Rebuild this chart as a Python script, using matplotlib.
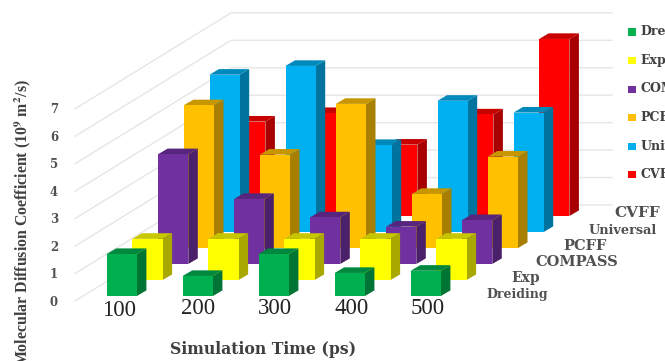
import matplotlib
matplotlib.use("Agg")
import matplotlib.pyplot as plt
from matplotlib.colors import to_rgb
from matplotlib.patches import Polygon, Rectangle

plt.rcParams["font.family"] = ["Liberation Serif", "DejaVu Serif"]
plt.rcParams["mathtext.fontset"] = "stix"

# Diffusion coefficients per force field and simulation time
times = ["100", "200", "300", "400", "500"]
dreiding = [1.53, 0.73, 1.53, 0.84, 0.92]
exp = [1.50, 1.50, 1.50, 1.50, 1.50]
compass = [4.00, 2.37, 1.70, 1.36, 1.60]
pcff = [5.20, 3.40, 5.25, 1.97, 3.33]
universal = [5.73, 6.05, 3.17, 4.78, 4.35]
cvff = [3.44, 3.75, 2.60, 3.70, 6.45]

series_names = ["Dreiding", "Exp", "COMPASS", "PCFF", "Universal", "CVFF"]
series_values = [dreiding, exp, compass, pcff, universal, cvff]
series_colors = ["#00B050", "#FFFF00", "#7030A0", "#FFC000", "#00B0F0", "#FF0000"]
y_ticks = [0, 1, 2, 3, 4, 5, 6, 7]

W, H = 665, 361
PX_X = 76.0      # pixels per time step
PX_Y = 27.45     # pixels per value unit
ORIGIN_X = 106.7
ORIGIN_Y = 296.0
WIDE_BOLD = "DejaVu Serif"

fig = plt.figure(figsize=(W / 100, H / 100), dpi=100)
ax = fig.add_axes([0, 0, 1, 1])
ax.set_xlim(-ORIGIN_X / PX_X, (W - ORIGIN_X) / PX_X)
ax.set_ylim(-(H - ORIGIN_Y) / PX_Y, ORIGIN_Y / PX_Y)
ax.axis("off")

# Oblique projection: each row shifts right and up
ROW_DX = 25.7 / PX_X
ROW_DY = 16.0 / PX_Y
BAR_W = 30.2 / PX_X
SIDE_DX = 9.5 / PX_X
SIDE_DY = 5.6 / PX_Y


def px(x, y):
    """Convert a pixel position (top-left origin) to data coordinates."""
    return (x - ORIGIN_X) / PX_X, (ORIGIN_Y - y) / PX_Y


def shade(color, factor):
    return tuple(c * factor for c in to_rgb(color))


# Side wall and back wall gridlines
grid_color = "#e6e6e6"
for v in y_ticks:
    front = px(75, 301 - v * PX_Y)
    corner = px(231, 205 - v * PX_Y)
    back = px(612, 205 - v * PX_Y)
    ax.plot([front[0], corner[0], back[0]], [front[1], corner[1], back[1]],
            color=grid_color, lw=1.0, zorder=1, solid_joinstyle="miter")

# Bars run from the back row to the front row
for row in range(len(series_values) - 1, -1, -1):
    color = series_colors[row]
    for i, value in enumerate(series_values[row]):
        x0 = i + row * ROW_DX
        y0 = row * ROW_DY
        x1 = x0 + BAR_W
        y1 = y0 + value
        z = 10 + (len(series_values) - row) * 10 + i
        ax.add_patch(Polygon([(x1, y0), (x1 + SIDE_DX, y0 + SIDE_DY),
                              (x1 + SIDE_DX, y1 + SIDE_DY), (x1, y1)],
                             closed=True, fc=shade(color, 0.66), ec="none", zorder=z))
        ax.add_patch(Polygon([(x0, y1), (x1, y1), (x1 + SIDE_DX, y1 + SIDE_DY),
                              (x0 + SIDE_DX, y1 + SIDE_DY)],
                             closed=True, fc=shade(color, 0.78), ec="none", zorder=z))
        ax.add_patch(Rectangle((x0, y0), BAR_W, value, fc=color, ec="none", zorder=z))

# Value axis labels along the front edge of the side wall
for v in y_ticks:
    tx, ty = px(54, 302 - v * PX_Y)
    ax.text(tx, ty, str(v), ha="center", va="center", fontsize=8.5,
            family=WIDE_BOLD, fontweight="bold", color="#505050", zorder=200)

# Time labels
time_label_x = [119, 198, 275, 352, 428]
time_label_y = [310, 308.5, 308.5, 308.5, 308.5]
for label, lx, ly in zip(times, time_label_x, time_label_y):
    tx, ty = px(lx, ly)
    ax.text(tx, ty, label, ha="center", va="center", fontsize=16.5,
            color="#222222", zorder=200)

# Row labels on the right of the floor
row_label_pos = [(517, 294.5, 9), (526, 278, 10), (577, 262, 10.5),
                 (585, 245.5, 10.5), (623, 230, 9.3), (637, 213, 11)]
for name, (lx, ly, fs) in zip(series_names, row_label_pos):
    tx, ty = px(lx, ly)
    ax.text(tx, ty, name, ha="center", va="center", fontsize=fs,
            family=WIDE_BOLD, fontweight="bold", color="#505050", zorder=200)

# Legend, running off the right edge
legend_y = [32, 60.5, 89, 117.5, 146.5, 174.5]
for name, color, ly in zip(series_names, series_colors, legend_y):
    mx, my = px(627.5, ly + 3.5)
    ax.add_patch(Rectangle((mx, my), 8.5 / PX_X, 7 / PX_Y, fc=color, ec="none", zorder=200))
    tx, ty = px(640.5, ly)
    ax.text(tx, ty, name, ha="left", va="center", fontsize=9,
            family=WIDE_BOLD, fontweight="bold", color="#404040", zorder=200)

# Axis titles
tx, ty = px(263, 349)
ax.text(tx, ty, "Simulation Time (ps)", ha="center", va="center", fontsize=11.3,
        family=WIDE_BOLD, fontweight="bold", color="#404040", zorder=200)
tx, ty = px(23, 223)
ax.text(tx, ty, r"Molecular Diffusion Coefficient (10$^{\mathbf{9}}$ m$^{\mathbf{2}}$/s)",
        rotation=90, ha="center", va="center", fontsize=11.4,
        fontweight="bold", color="#404040", zorder=200)

fig.savefig("out.png", dpi=100, facecolor="white")
